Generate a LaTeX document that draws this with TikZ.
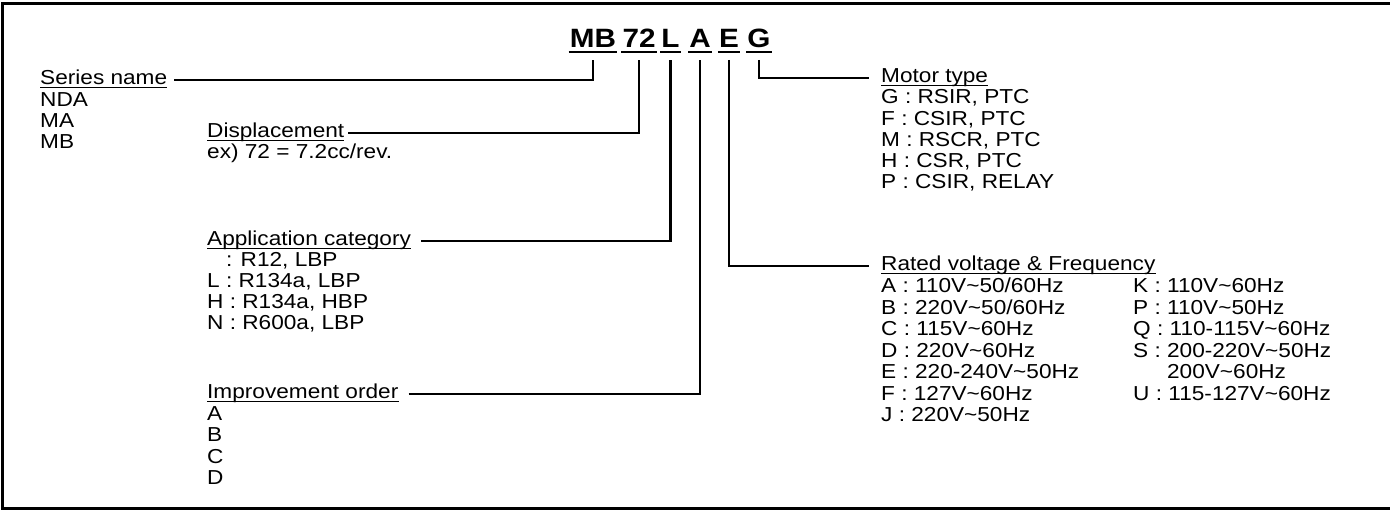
\documentclass[tikz,border=0pt]{standalone}
\usepackage{fontspec}
\setmainfont[FakeStretch=1.12]{Liberation Sans}
\newcommand{\tl}{\textasciitilde}
\begin{document}
\begin{tikzpicture}[x=1pt,y=-1pt,
  lbl/.style={anchor=base west, inner sep=0pt, font=\fontsize{20.2}{22}\selectfont},
  code/.style={anchor=base, inner sep=0pt, font=\fontsize{26.5}{29}\selectfont\bfseries},
  wire/.style={line width=2.4pt},
  uline/.style={line width=1.3pt},
  tline/.style={line width=2.6pt},
  frame/.style={line width=3pt}]
\useasboundingbox (0,0) rectangle (1390,510);
\draw[frame] (1395,3.5) -- (2,3.5) -- (2,508) -- (1395,508);

% code letters
\node[code] (tMB) at (593,48) {MB};
\node[code] (t72) at (639,48) {72};
\node[code] (tL) at (670.5,48) {L};
\node[code] (tA) at (700,48) {A};
\node[code] (tE) at (729,48) {E};
\node[code] (tG) at (759,48) {G};
\foreach \n in {tMB,t72,tL,tA,tE,tG}
  \draw[tline] ([shift={(-1pt,-4pt)}]\n.base west) -- ([shift={(1pt,-4pt)}]\n.base east);

% left labels
\node[lbl] (sname) at (40,85) {Series name};
\node[lbl] (s1) at (40,107) {NDA};
\node[lbl] (s2) at (40,128) {MA};
\node[lbl] (s3) at (40,149) {MB};

\node[lbl] (disp) at (207,138) {Displacement};
\node[lbl] (d1) at (207,159) {ex) 72 = 7.2cc/rev.};

\node[lbl] (appl) at (207,246) {Application category};
\node[lbl] (a0) at (207,267) {\phantom{L} : R12, LBP};
\node[lbl] (a1) at (207,288) {L : R134a, LBP};
\node[lbl] (a2) at (207,309) {H : R134a, HBP};
\node[lbl] (a3) at (207,330) {N : R600a, LBP};

\node[lbl] (impr) at (207,399) {Improvement order};
\node[lbl] (i1) at (207,421) {A};
\node[lbl] (i2) at (207,442) {B};
\node[lbl] (i3) at (207,464) {C};
\node[lbl] (i4) at (207,485) {D};

% right labels
\node[lbl] (motor) at (881,83) {Motor type};
\node[lbl] (m1) at (881,104) {G : RSIR, PTC};
\node[lbl] (m2) at (881,126) {F : CSIR, PTC};
\node[lbl] (m3) at (881,147) {M : RSCR, PTC};
\node[lbl] (m4) at (881,168) {H : CSR, PTC};
\node[lbl] (m5) at (881,189) {P : CSIR, RELAY};

\node[lbl] (rated) at (881,271) {Rated voltage \& Frequency};
\node[lbl] (r1) at (881,293) {A : 110V\tl50/60Hz};
\node[lbl] (r2) at (881,315) {B : 220V\tl50/60Hz};
\node[lbl] (r3) at (881,336) {C : 115V\tl60Hz};
\node[lbl] (r4) at (881,358) {D : 220V\tl60Hz};
\node[lbl] (r5) at (881,379) {E : 220-240V\tl50Hz};
\node[lbl] (r6) at (881,401) {F : 127V\tl60Hz};
\node[lbl] (r7) at (881,422) {J : 220V\tl50Hz};
\node[lbl] (k1) at (1133,293) {K : 110V\tl60Hz};
\node[lbl] (k2) at (1133,315) {P : 110V\tl50Hz};
\node[lbl] (k3) at (1133,336) {Q : 110-115V\tl60Hz};
\node[lbl] (k4) at (1133,358) {S : 200-220V\tl50Hz};
\node[lbl] (k5) at (1133,379) {\phantom{S : }200V\tl60Hz};
\node[lbl] (k6) at (1133,401) {U : 115-127V\tl60Hz};

% underlines of headings
\foreach \n in {sname,disp,appl,impr,motor,rated}
  \draw[uline] ([yshift=-2.5pt]\n.base west) -- ([yshift=-2.5pt]\n.base east);

% connectors
\draw[wire] ([shift={(7pt,5pt)}]sname.base east) -| ([yshift=-12pt]tMB.base);
\draw[wire] ([shift={(4pt,5pt)}]disp.base east) -| ([yshift=-12pt]t72.base);
\draw[wire] ([shift={(10pt,5pt)}]appl.base east) -| ([yshift=-12pt]tL.base);
\draw[wire] ([shift={(10pt,5pt)}]impr.base east) -| ([yshift=-12pt]tA.base);
\draw[wire] ([yshift=-12pt]tE.base) |- ([shift={(-12pt,5pt)}]rated.base west);
\draw[wire] ([yshift=-12pt]tG.base) |- ([shift={(-12pt,5pt)}]motor.base west);
\end{tikzpicture}
\end{document}
